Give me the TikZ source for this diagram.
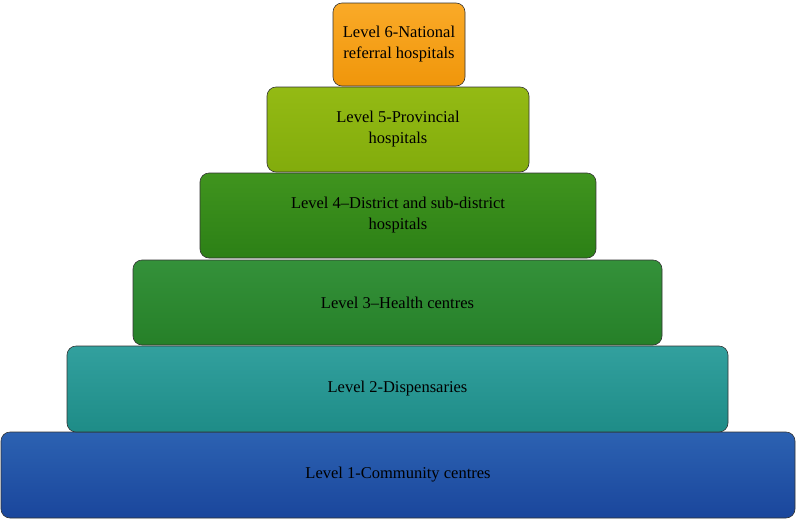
\documentclass[tikz,border=0pt]{standalone}
\usepackage{fontspec}
\setmainfont{Liberation Serif}
\usepackage{tikz}
\usetikzlibrary{shadings}

\definecolor{orangetop}{RGB}{250,170,40}
\definecolor{orangebot}{RGB}{240,150,10}
\definecolor{limetop}{RGB}{148,186,20}
\definecolor{limebot}{RGB}{130,172,12}
\definecolor{leaftop}{RGB}{64,148,30}
\definecolor{leafbot}{RGB}{44,128,22}
\definecolor{greentop}{RGB}{52,145,58}
\definecolor{greenbot}{RGB}{38,128,40}
\definecolor{tealtop}{RGB}{50,160,158}
\definecolor{tealbot}{RGB}{30,140,135}
\definecolor{bluetop}{RGB}{44,98,178}
\definecolor{bluebot}{RGB}{26,70,156}

\begin{document}
\begin{tikzpicture}[x=1pt,y=-1pt]
		\tikzstyle{level}=[rectangle, rounded corners=9pt, draw=black!80, line width=0.6pt, inner sep=0pt, align=center, font=\fontsize{16.5}{21}\selectfont, text=black]

		\useasboundingbox (0,0) rectangle (796,520);

		\node [level, top color=bluetop, bottom color=bluebot, minimum width=794pt, minimum height=86pt] (l1) at (398,475) {Level 1-Community centres};
		\node [level, top color=tealtop, bottom color=tealbot, minimum width=661pt, minimum height=86pt] (l2) at (397.5,389) {Level 2-Dispensaries};
		\node [level, top color=greentop, bottom color=greenbot, minimum width=529pt, minimum height=85pt] (l3) at (397.5,302.5) {Level 3--Health centres};
		\node [level, top color=leaftop, bottom color=leafbot, minimum width=396pt, minimum height=85pt] (l4) at (398,215.5) {Level 4--District and sub-district\\hospitals};
		\node [level, top color=limetop, bottom color=limebot, minimum width=262pt, minimum height=85pt] (l5) at (398,129.5) {Level 5-Provincial\\hospitals};
		\node [level, top color=orangetop, bottom color=orangebot, minimum width=132pt, minimum height=83pt] (l6) at (399,44.5) {Level 6-National\\referral hospitals};
	\end{tikzpicture}
\end{document}
